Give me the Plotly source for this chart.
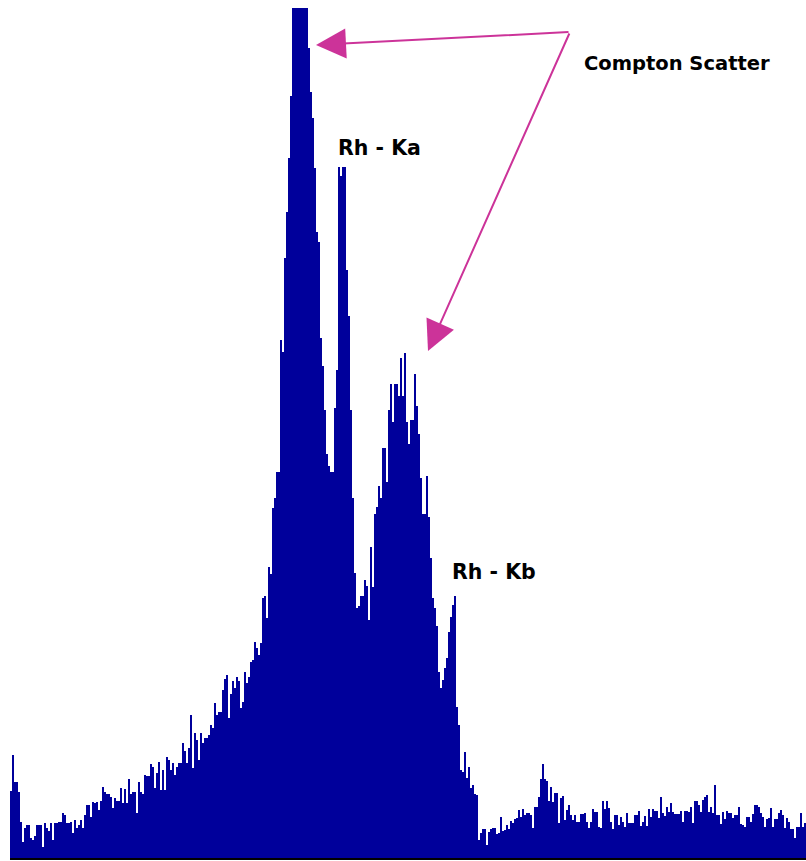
import numpy as np
import plotly.graph_objects as go

# Spectrum counts per channel (left background, peak region, right background)
counts_low = [67,103,76,76,66,36,16,30,33,33,
              20,18,22,33,33,33,11,35,30,27,
              35,18,35,35,36,36,45,43,35,35,
              36,25,38,30,33,38,30,43,53,53,
              41,56,55,56,48,57,71,66,64,64,
              61,50,60,57,57,70,55,69,55,79,
              64,66,66,45,76,66,64,83,82,82,
              94,91,70,85,96,68,88,68,101,98,
              88,95,83,91,95,95,115,107,95,110,
              143,90,125,118,98,125,115,120,120,123,
              133,130,155,143,146,146,168,179,183,140,
              164,177,170,181,177,150,156,186,175,181,
              196,198,216,210,203]

counts_peaks = [215,260,262,240,291,284,350,360,386,386,
                518,506,600,646,700,762,900,960,1000,1020,
                990,960,930,890,810,766,740,690,626,616,
                520,492,448,404,392,386,386,450,488,691,
                682,691,691,588,542,448,360,285,250,252,
                262,262,278,272,238,311,271,344,351,372,
                360,410,410,376,448,474,436,474,474,462,
                500,462,505,436,414,438,438,484,452,424,
                380,344,344,382,341,300,260,250,232,186,
                170,178,190,200,226,241,253,262,151,133,
                88,86,106,80,91,70,73,64,63,18,
                25,29,29,13,26,29,30,30,24,25,
                41,27,28,33,29,37,35,39,40,48,
                41,49,43,45,45,43,30,51,51,61,
                79,94,79,77,57,71,56,65,65,35,
                60,62]

counts_high = [38,48,53,43,38,43,36,36,44,44,
               45,36,30,36,49,46,46,31,30,57,
               49,57,50,36,29,43,43,33,41,36,
               31,45,35,35,35,43,43,47,32,36,
               42,32,49,41,49,47,47,40,61,45,
               42,51,46,55,46,44,44,44,47,36,
               47,47,46,51,35,57,57,53,46,58,
               61,63,46,51,45,73,43,43,34,46,
               39,47,45,45,40,43,43,51,34,33,
               31,41,41,36,44,53,53,51,45,41,
               31,39,40,50,31,39,39,45,48,43,
               30,40,36,29,29,20,31,31,45,31,
               35]

labels = ["Compton Scatter", "Rh - Ka", "Rh - Kb"]

counts = counts_low + counts_peaks + counts_high
channels = np.arange(len(counts))

BLUE = "rgb(0,0,155)"
MAGENTA = "rgb(204,51,153)"

fig = go.Figure(go.Bar(
    x=channels, y=counts,
    marker=dict(color=BLUE, line=dict(width=0)),
    width=1.0,
))

def cx(px):
    return (px - 10) / 2 - 0.5

def cy(py):
    return 858 - py

font_c = dict(family="DejaVu Sans", size=19.5, color="black", weight="bold")
font_r = dict(family="DejaVu Sans", size=20.5, color="black", weight="bold")

annotations = [
    dict(x=cx(582), y=cy(63), text=labels[0], showarrow=False,
         xanchor="left", yanchor="middle", font=font_c),
    dict(x=cx(336), y=cy(148), text=labels[1], showarrow=False,
         xanchor="left", yanchor="middle", font=font_r),
    dict(x=cx(450), y=cy(572), text=labels[2], showarrow=False,
         xanchor="left", yanchor="middle", font=font_r),
    dict(x=cx(316), y=cy(45), ax=570 - 316, ay=32 - 45, text="",
         showarrow=True, arrowhead=2, arrowsize=3, arrowwidth=2,
         arrowcolor=MAGENTA, standoff=0),
    dict(x=cx(428), y=cy(351), ax=570 - 428, ay=32 - 351, text="",
         showarrow=True, arrowhead=2, arrowsize=3, arrowwidth=2,
         arrowcolor=MAGENTA, standoff=0),
]

fig.update_layout(
    width=806, height=861,
    margin=dict(l=10, r=0, t=8, b=3),
    paper_bgcolor="white", plot_bgcolor="white",
    bargap=0, showlegend=False,
    xaxis=dict(range=[-0.5, len(counts) - 0.5], showgrid=False, zeroline=False,
               showticklabels=False, ticks="", showline=True,
               linecolor="black", linewidth=2),
    yaxis=dict(range=[0, 850], showgrid=False, zeroline=False,
               showticklabels=False, ticks="", showline=False),
    annotations=annotations,
)

fig.write_html("out.html")
